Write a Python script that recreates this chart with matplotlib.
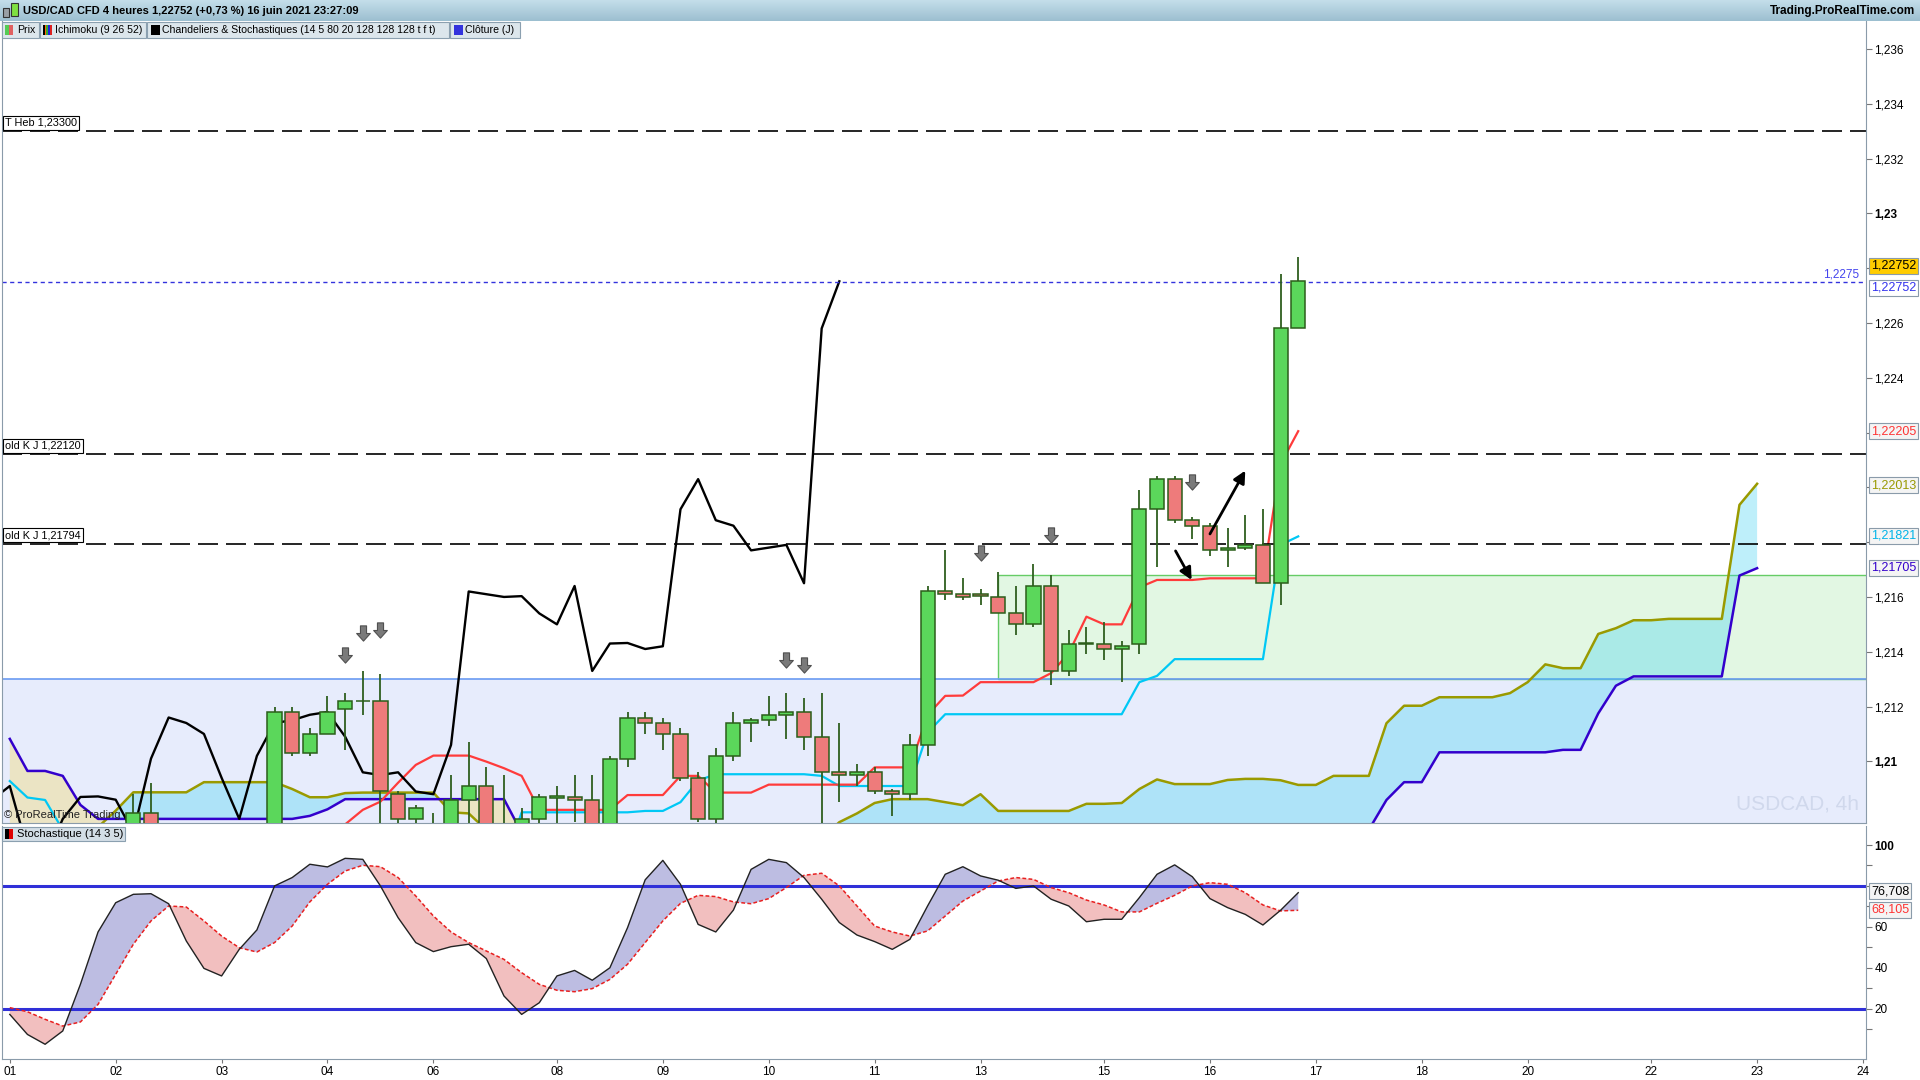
import numpy as np
import matplotlib
matplotlib.use("Agg")
import matplotlib.pyplot as plt
from matplotlib.patches import Rectangle
from matplotlib.path import Path
from matplotlib.colors import LinearSegmentedColormap
import matplotlib.transforms as mtransforms

plt.rcParams['font.family'] = ['Liberation Sans', 'DejaVu Sans']

W, H = 1920, 1080

# --- USD/CAD 4h candles, index 0 = 1 juin 2021 ---
opens = [1.2068, 1.2064, 1.2060, 1.2058, 1.2066, 1.2071, 1.2073, 1.2074, 1.2081, 1.2072,
         1.2066, 1.2062, 1.2064, 1.2067, 1.2070, 1.2074, 1.2118, 1.2103, 1.2110, 1.2119,
         1.2122, 1.2122, 1.2088, 1.2079, 1.2077, 1.2070, 1.2086, 1.2091, 1.2068, 1.2066,
         1.2079, 1.20868, 1.2087, 1.2086, 1.2074, 1.2101, 1.2116, 1.2114, 1.2110, 1.2094,
         1.2079, 1.2102, 1.2114, 1.2115, 1.2117, 1.2118, 1.2109, 1.2096, 1.2095, 1.2096,
         1.2089, 1.2088, 1.2106, 1.2162, 1.2161, 1.21612, 1.2160, 1.2154, 1.2150, 1.2164,
         1.2133, 1.21428, 1.2143, 1.2141, 1.2143, 1.2192, 1.2203, 1.2188, 1.2186, 1.2177,
         1.2178, 1.2179, 1.2165, 1.2258]
highs = [1.2074, 1.2069, 1.2066, 1.2068, 1.2074, 1.2076, 1.2076, 1.2088, 1.2092, 1.2076,
         1.2071, 1.2068, 1.2070, 1.2074, 1.2076, 1.2120, 1.2120, 1.2112, 1.2124, 1.2125,
         1.2133, 1.2132, 1.2089, 1.2084, 1.2081, 1.2095, 1.2107, 1.2098, 1.2095, 1.2083,
         1.2088, 1.2091, 1.2095, 1.2095, 1.2102, 1.2118, 1.2118, 1.2116, 1.2112, 1.2096,
         1.2105, 1.2118, 1.2116, 1.2124, 1.2125, 1.2123, 1.2125, 1.2114, 1.2099, 1.2098,
         1.2090, 1.2110, 1.2164, 1.2177, 1.2167, 1.2163, 1.2169, 1.2164, 1.2172, 1.2168,
         1.2148, 1.2149, 1.2151, 1.2144, 1.2199, 1.2204, 1.2204, 1.2189, 1.2187, 1.2185,
         1.2190, 1.2192, 1.2278, 1.2284]
lows = [1.2062, 1.2058, 1.2055, 1.2056, 1.2063, 1.2067, 1.2068, 1.2072, 1.2070, 1.2064,
        1.2060, 1.2058, 1.2060, 1.2063, 1.2066, 1.2072, 1.2102, 1.2102, 1.2110, 1.2104,
        1.2117, 1.2074, 1.2074, 1.2074, 1.2066, 1.2068, 1.2076, 1.2066, 1.2062, 1.2064,
        1.2077, 1.2077, 1.2078, 1.2072, 1.2072, 1.2098, 1.2110, 1.2104, 1.2093, 1.2078,
        1.2077, 1.2100, 1.2107, 1.2113, 1.2108, 1.2104, 1.2072, 1.2085, 1.2091, 1.2088,
        1.2080, 1.2086, 1.2102, 1.2159, 1.2159, 1.2157, 1.2154, 1.2146, 1.2149, 1.2128,
        1.2131, 1.2139, 1.2137, 1.2129, 1.2139, 1.2171, 1.2187, 1.2181, 1.2175, 1.2171,
        1.2177, 1.2165, 1.2157, 1.2258]
closes = [1.2064, 1.2060, 1.2058, 1.2066, 1.2071, 1.2073, 1.2074, 1.2081, 1.2072, 1.2066,
          1.2062, 1.2064, 1.2067, 1.2070, 1.2074, 1.2118, 1.2103, 1.2110, 1.2118, 1.2122,
          1.21222, 1.2089, 1.2079, 1.2083, 1.2070, 1.2086, 1.2091, 1.2068, 1.2064, 1.2079,
          1.2087, 1.20872, 1.2086, 1.2074, 1.2101, 1.2116, 1.2114, 1.2110, 1.2094, 1.2079,
          1.2102, 1.2114, 1.2115, 1.2117, 1.2118, 1.2109, 1.2096, 1.2095, 1.2096, 1.2089,
          1.2088, 1.2106, 1.2162, 1.2161, 1.2160, 1.21603, 1.2154, 1.2150, 1.2164, 1.2133,
          1.2143, 1.21432, 1.2141, 1.2142, 1.2192, 1.2203, 1.2188, 1.2186, 1.2177, 1.2178,
          1.2179, 1.2165, 1.2258, 1.22752]

# --- Ichimoku (9 26 52) ---
tenkan = [1.2070] * 18 + [1.2072, 1.2077, 1.20823, 1.20853, 1.20922, 1.20987, 1.21021, 1.21021,
          1.21021, 1.20999, 1.20975, 1.20947] + [1.20823] * 5 + [1.20877] * 3 + [1.20947] * 2 \
    + [1.20886] * 3 + [1.20915] * 6 + [1.20978] * 3 + [1.21169, 1.21239, 1.2124] \
    + [1.21289] * 4 + [1.21322, 1.21395, 1.21528, 1.215, 1.215, 1.21635] + [1.21662] * 3 \
    + [1.21668] * 4 + [1.22085, 1.22205]
kijun = [1.20928, 1.20868, 1.20859, 1.2075] + [1.2065] * 24 + [1.2062] + [1.20814] * 7 \
    + [1.20819] * 2 + [1.20851, 1.2093] + [1.20953] * 6 + [1.20947] + [1.2091] * 5 \
    + [1.21105] + [1.21172] * 11 + [1.21289, 1.21312] + [1.21373] * 6 + [1.2179, 1.21821]
senkou_a = [1.2074] * 5 + [1.2076, 1.2082] + [1.20887] * 4 + [1.20924] * 5 + [1.20899, 1.20869,
            1.20869, 1.20884] + [1.20886] * 5 + [1.20814, 1.2081, 1.2075] + [1.2072] * 19 \
    + [1.20778, 1.2081, 1.20848, 1.20862, 1.20862, 1.20862, 1.20851, 1.2084, 1.2088] \
    + [1.20819] * 5 + [1.20845, 1.20845, 1.20848, 1.20899, 1.20934, 1.20917, 1.20917, 1.20917,
                       1.20932, 1.20936, 1.20936, 1.20931, 1.20914, 1.20914, 1.20947, 1.20947,
                       1.20947, 1.21139, 1.21203, 1.21203] + [1.21234] * 4 \
    + [1.21249, 1.21289, 1.21354, 1.2134, 1.2134, 1.21465, 1.21486, 1.21515, 1.21515] \
    + [1.2152] * 4 + [1.21936, 1.22013]
senkou_b = [1.21082, 1.20965, 1.20965, 1.20947, 1.20841] + [1.2079] * 12 + [1.20801, 1.20825] \
    + [1.20862] * 10 + [1.2074] * 12 + [1.2070] * 36 + [1.2075, 1.20859, 1.20924, 1.20924] \
    + [1.21033] * 7 + [1.21042, 1.21042, 1.21175, 1.21276] + [1.2131] * 6 + [1.21678, 1.21705]

# --- Stochastique (14 3 5) ---
stoch_k = [17.2, 7.4, 2.6, 9.1, 31.9, 57.5, 71.8, 75.9, 76.2, 71.3,
           53.1, 39.7, 36.0, 49.0, 58.5, 80.0, 84.1, 90.6, 89.3, 93.5,
           93.0, 80.0, 64.5, 52.3, 47.9, 50.3, 51.5, 44.5, 26.2, 17.2,
           22.9, 36.0, 38.7, 33.9, 40.0, 59.6, 83.0, 92.5, 80.8, 61.2,
           57.5, 68.2, 88.1, 93.0, 91.4, 84.1, 73.5, 62.1, 56.0, 52.8,
           49.0, 53.9, 70.2, 85.7, 89.4, 84.9, 82.8, 78.8, 80.0, 73.5,
           70.2, 62.5, 63.7, 63.7, 74.3, 85.7, 90.3, 84.5, 73.8, 69.4,
           66.1, 60.9, 68.1, 76.7]
stoch_d = [20.5, 18.5, 14.8, 11.5, 13.5, 22.1, 36.8, 51.5, 62.9, 70.2,
           69.7, 62.9, 55.5, 49.8, 47.7, 52.3, 60.4, 72.2, 80.8, 87.3,
           90.1, 89.4, 84.1, 75.1, 65.3, 57.5, 52.3, 48.2, 44.1, 37.6,
           31.9, 29.0, 28.3, 29.8, 34.3, 41.7, 52.3, 62.9, 71.5, 75.4,
           74.8, 72.2, 71.3, 73.8, 79.2, 85.2, 86.2, 80.0, 70.2, 60.4,
           57.5, 55.5, 58.0, 65.3, 72.6, 77.5, 82.4, 84.1, 83.2, 79.2,
           76.7, 73.1, 70.7, 67.3, 67.3, 71.5, 75.4, 80.0, 81.6, 80.8,
           76.7, 70.7, 67.8, 68.1]

day_labels = ['01', '02', '03', '04', '06', '08', '09', '10', '11', '13',
              '15', '16', '17', '18', '20', '22', '23', '24']
day_pos = [0, 6, 12, 18, 24, 31, 37, 43, 49, 55, 62, 68, 74, 80, 86, 93, 99, 105]

level_prices = [1.2330, 1.2212, 1.21794]
level_texts = ['T Heb 1,23300', 'old K J 1,22120', 'old K J 1,21794']
cloture_j = 1.2275
zone_mid, zone_high = 1.2130, 1.21679
zone_start = 56

signal_x = [19, 20, 21, 44, 45, 55, 59, 67]
signal_y = [1.21389, 1.21470, 1.21478, 1.21370, 1.21350, 1.21762, 1.21825, 1.22020]

# price ticks covered by the value boxes on the right
hidden_ticks = [1.228, 1.222, 1.220, 1.218]


def fx(px):
    return px / W


def fy(py):
    return 1 - py / H


def prect(x0, y0, x1, y1, fc, ec='none', lw=0.8, z=6):
    fig.add_artist(Rectangle((fx(x0), fy(y1)), (x1 - x0) / W, (y1 - y0) / H,
                             transform=fig.transFigure, fc=fc, ec=ec, lw=lw, zorder=z))


fig = plt.figure(figsize=(W / 100, H / 100), dpi=100)
fig.patch.set_facecolor('white')

X0, X1 = -0.442, 105.17
spine_c = '#8A9BAA'

# ================= price panel =================
ax = fig.add_axes([fx(2), fy(823), fx(1866) - fx(2), fy(21) - fy(823)])
ax.set_xlim(X0, X1)
ax.set_ylim(1.20775, 1.23702)

ax.axhspan(1.200, zone_mid, color='#E7ECFC', lw=0, zorder=0.2)
ax.add_patch(Rectangle((zone_start, zone_mid), X1 - zone_start + 2, zone_high - zone_mid,
                       fc='#E2F7E3', ec='#66CC66', lw=1.0, zorder=0.25))
ax.axhline(zone_mid, color='#6B9BF2', lw=1.2, zorder=0.3)

xs = np.arange(len(senkou_a))
sa = np.array(senkou_a)
sb = np.array(senkou_b)
ax.fill_between(xs, sa, sb, where=sa >= sb, interpolate=True, color='#3AD1F0', alpha=0.33, lw=0, zorder=1)
ax.fill_between(xs, sa, sb, where=sa < sb, interpolate=True, color='#F6D452', alpha=0.33, lw=0, zorder=1)
ax.plot(xs, sa, color='#9A9A00', lw=1.8, zorder=2)
ax.plot(xs, sb, color='#3300CC', lw=1.8, zorder=2)

ci = np.arange(len(closes))
ax.plot(ci, kijun, color='#00C8F5', lw=1.6, zorder=2.1)
ax.plot(ci, tenkan, color='#FF3B3B', lw=1.6, zorder=2.2)
ax.plot(ci - 26, closes, color='black', lw=1.7, zorder=2.3)  # chikou

for lvl, txt in zip(level_prices, level_texts):
    ax.axhline(lvl, color='black', lw=1.2, ls=(0, (12, 4.8)), zorder=2.5)
    ax.annotate(txt, xy=(0, lvl), xycoords=('axes fraction', 'data'), xytext=(2, 2.5),
                textcoords='offset points', ha='left', va='bottom', fontsize=7.8, zorder=6,
                bbox=dict(boxstyle='square,pad=0.2', fc='white', ec='black', lw=0.8))

ax.axhline(cloture_j, color='#3333DD', lw=1.0, ls=(0, (3, 2.5)), zorder=2.5)
trans = mtransforms.blended_transform_factory(ax.transAxes, ax.transData)
ax.text(0.9965, cloture_j + 0.00006, '1,2275', transform=trans, ha='right', va='bottom',
        color='#4444EE', fontsize=8.5, zorder=6)

o = np.array(opens)
c = np.array(closes)
up = c >= o
body = np.where(np.abs(c - o) < 0.00002, np.where(up, 0.00002, -0.00002), c - o)
ax.vlines(ci, lows, highs, color='#2F5F1F', lw=1.3, zorder=3)
ax.bar(ci[up], body[up], bottom=o[up], width=0.8, color='#5BD75B', edgecolor='#2B5E1A', lw=1.1, zorder=4)
ax.bar(ci[~up], body[~up], bottom=o[~up], width=0.8, color='#EE7B7B', edgecolor='#2B5E1A', lw=1.1, zorder=4)

arrow_path = Path([(-0.2, 0.5), (0.2, 0.5), (0.2, 0.0), (0.45, 0.0), (0, -0.5),
                   (-0.45, 0.0), (-0.2, 0.0), (-0.2, 0.5)], closed=True)
ax.scatter(signal_x, signal_y, marker=arrow_path, s=120, c='#7A7A7A', edgecolors='#505050',
           linewidths=0.8, zorder=5)

for tail, tip in [((68.0, 1.2183), (70.0, 1.22061)), ((66.05, 1.21768), (66.96, 1.21662))]:
    ax.annotate('', xy=tip, xytext=tail,
                arrowprops=dict(arrowstyle='-|>', color='black', lw=2, mutation_scale=18,
                                shrinkA=0, shrinkB=0), zorder=5)

ax.text(0.001, 0.004, '© ProRealTime Trading', transform=ax.transAxes, fontsize=8,
        ha='left', va='bottom', color='#222222', zorder=6)
ax.text(0.9965, 0.012, 'USDCAD, 4h', transform=ax.transAxes, fontsize=15, ha='right',
        va='bottom', color='#D0D8EC', zorder=1.5)

yt = [round(1.210 + 0.002 * k, 3) for k in range(14)]
ylab = ['' if v in hidden_ticks else ('%.3f' % v).rstrip('0').replace('.', ',') for v in yt]
ax.yaxis.tick_right()
ax.set_yticks(yt)
ax.set_yticklabels(ylab)
for t in ax.get_yticklabels():
    if len(t.get_text()) == 4:
        t.set_fontweight('bold')
ax.tick_params(axis='y', direction='out', length=4, width=0.8, color='#777777', labelsize=8.5, pad=2)
ax.tick_params(axis='x', bottom=False, labelbottom=False)
ax.spines['top'].set_visible(False)
for s in ['left', 'right', 'bottom']:
    ax.spines[s].set_color(spine_c)

# ================= stochastic panel =================
ax2 = fig.add_axes([fx(2), fy(1059), fx(1866) - fx(2), fy(826) - fy(1059)])
ax2.set_xlim(X0, X1)
ax2.set_ylim(-4.6, 109.3)
k = np.array(stoch_k)
d = np.array(stoch_d)
ax2.fill_between(ci, k, d, where=k >= d, interpolate=True, color='#BDBDE2', lw=0, zorder=1)
ax2.fill_between(ci, k, d, where=k < d, interpolate=True, color='#F2BFBF', lw=0, zorder=1)
ax2.axhline(80, color='#3030D8', lw=2.2, zorder=2)
ax2.axhline(20, color='#3030D8', lw=2.2, zorder=2)
ax2.plot(ci, d, color='#E82020', lw=1.1, ls=(0, (2.5, 1.5)), zorder=3)
ax2.plot(ci, k, color='#222222', lw=1.0, zorder=3)

ax2.yaxis.tick_right()
ax2.set_yticks([20, 40, 60, 100])
ax2.set_yticklabels(['20', '40', '60', '100'])
ax2.get_yticklabels()[-1].set_fontweight('bold')
ax2.set_yticks([10, 30, 50, 70, 80, 90], minor=True)
ax2.tick_params(axis='y', which='both', direction='out', length=4, width=0.8, color='#777777',
                labelsize=8.5, pad=2)
ax2.set_xticks(day_pos)
ax2.set_xticklabels(day_labels)
ax2.tick_params(axis='x', direction='out', length=3, width=0.8, color='#777777', labelsize=8.5, pad=2)
ax2.spines['top'].set_visible(False)
for s in ['left', 'right', 'bottom']:
    ax2.spines[s].set_color(spine_c)

# ================= header =================
hax = fig.add_axes([0, fy(21), 1, 21 / H])
grad = np.linspace(0, 1, 50).reshape(-1, 1)
hax.imshow(grad, aspect='auto', extent=[0, 1, 0, 1],
           cmap=LinearSegmentedColormap.from_list('hdr', ['#C4DEEA', '#9CBFD0']))
hax.axis('off')
prect(3, 8, 9, 17, '#9AA0A6', ec='#333333', z=7)
prect(11, 3, 18, 16, '#7FE040', ec='#333333', z=7)
fig.text(fx(23), fy(11), 'USD/CAD CFD 4 heures 1,22752 (+0,73 %) 16 juin 2021 23:27:09',
         fontsize=8, fontweight='bold', va='center', ha='left', zorder=8)
fig.text(fx(1915), fy(11), 'Trading.ProRealTime.com', fontsize=8.5, fontweight='bold',
         va='center', ha='right', zorder=8)

# legend bar
legend_boxes = [(2, 39, 'Prix'), (40, 146, 'Ichimoku (9 26 52)'),
                (147, 449, 'Chandeliers & Stochastiques (14 5 80 20 128 128 128 t f t)'),
                (450, 520, 'Clôture (J)')]
for x0, x1, txt in legend_boxes:
    prect(x0, 22, x1, 38, '#DCE6EC', ec='#8BA0B0', lw=0.8)
    fig.text(fx(x0 + 15), fy(30), txt, fontsize=7.6, va='center', ha='left', zorder=8)
prect(5, 25, 9, 35, '#55CC55', z=7)
prect(9, 25, 13, 35, '#E06060', z=7)
for j, col in enumerate(['#000000', '#FF6600', '#33AA33', '#2222DD', '#DD2222']):
    prect(43 + j * 1.7, 25, 44.7 + j * 1.7, 35, col, z=7)
prect(151, 25, 160, 35, '#000000', z=7)
prect(454, 25, 463, 35, '#3333DD', z=7)

# stochastic label
prect(2, 827, 125, 841, '#D3DEE6', ec='#8BA0B0', lw=0.8)
prect(5, 829, 9, 839, '#000000', z=7)
prect(9, 829, 13, 839, '#DD0000', z=7)
fig.text(fx(17), fy(834), 'Stochastique (14 3 5)', fontsize=8, va='center', ha='left', zorder=8)


# value boxes on the right axis
def value_box(py, txt, fg, bg='#F4F4F4', z=8):
    fig.text(fx(1871), fy(py), txt, color=fg, fontsize=9, va='center', ha='left', zorder=z,
             bbox=dict(boxstyle='square,pad=0.15', fc=bg, ec='#8A9BAA', lw=0.8))


value_box(266, '1,22752', '#000000', bg='#FFCC00')
value_box(288, '1,22752', '#3333EE', bg='white')
value_box(431, '1,22205', '#FF3333')
value_box(485, '1,22013', '#999900')
value_box(536, '1,21821', '#00B4E8')
value_box(568, '1,21705', '#3300CC')
value_box(891, '76,708', '#000000')
value_box(910, '68,105', '#FF3333')

fig.savefig('out.png', dpi=100)
